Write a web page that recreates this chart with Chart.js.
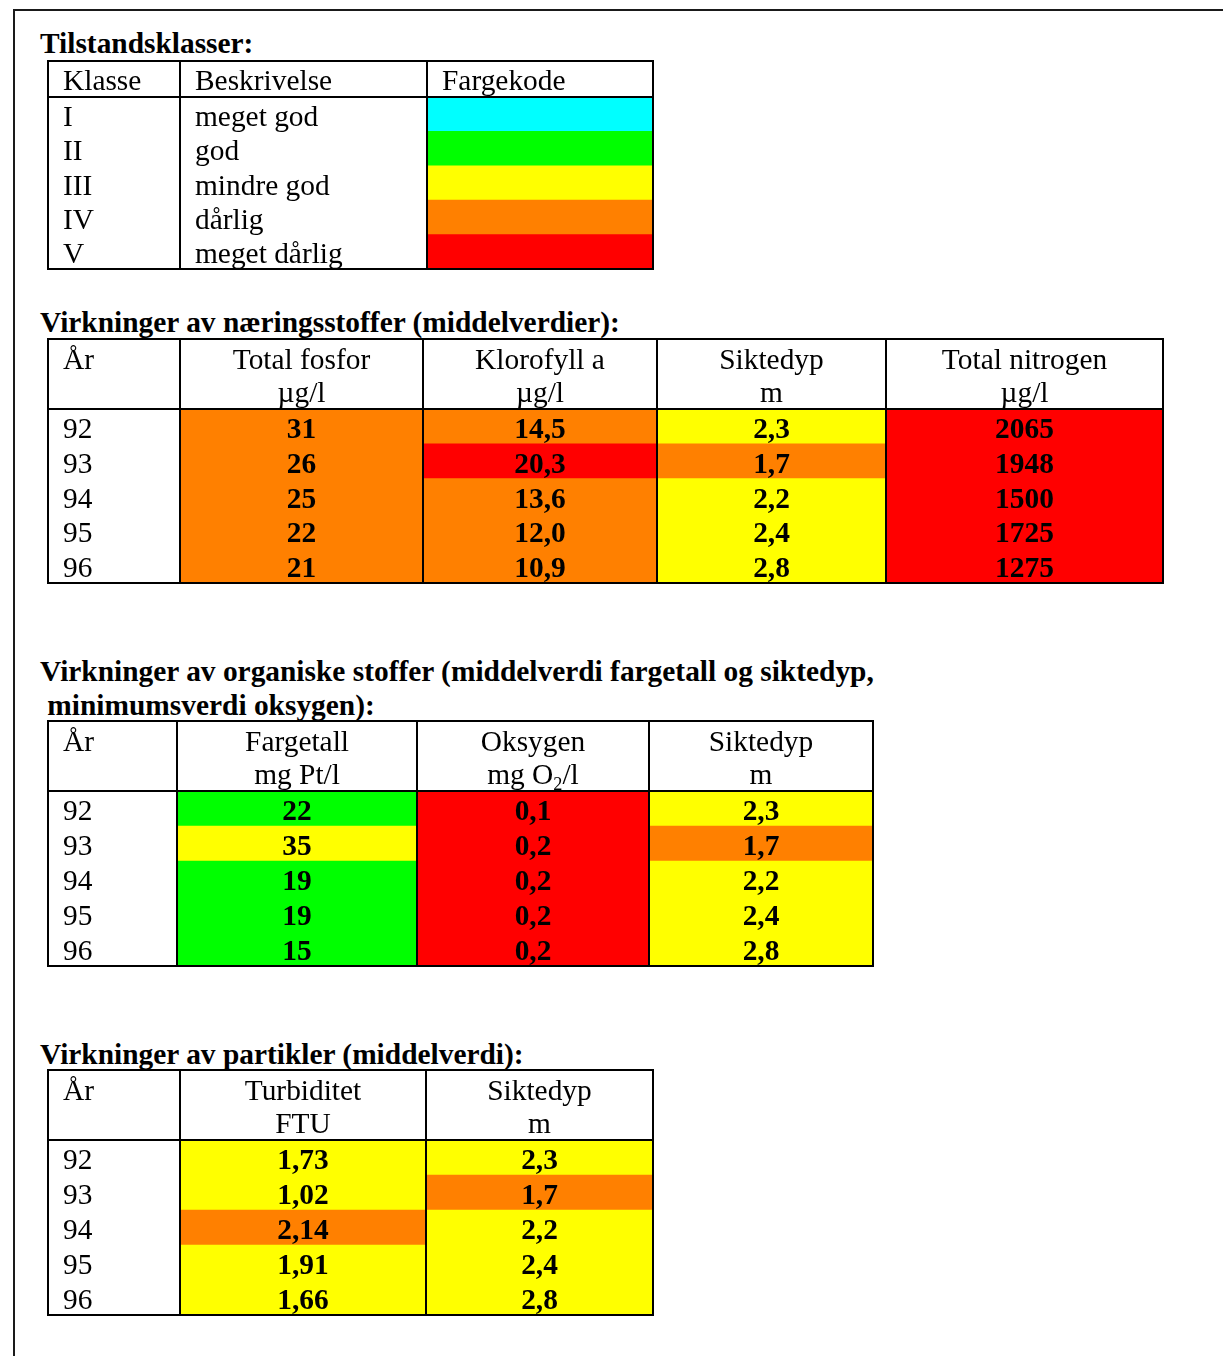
<!DOCTYPE html>
<html lang="no">
<head>
<meta charset="utf-8">
<title>Tilstandsklasser</title>
<script src="https://cdn.jsdelivr.net/npm/chart.js@4.4.1/dist/chart.umd.min.js"></script>
<style>
  html, body { margin: 0; padding: 0; background: #fff; }
  #page { position: relative; width: 1223px; height: 1356px; overflow: hidden; background: #fff; }
  .rule { position: absolute; background: #1a1a1a; }
  .h { position: absolute; font-family: "Liberation Serif", "Times New Roman", serif; font-weight: bold;
       font-size: 29.4px; line-height: 34px; white-space: pre; color: #000; }
  .tbl { position: absolute; }
</style>
</head>
<body>
<div id="page">
  <div class="rule" style="left:13px; top:9px; width:1210px; height:2px;"></div>
  <div class="rule" style="left:13px; top:9px; width:2px; height:1347px;"></div>

  <div class="h" style="left:40px; top:26px;">Tilstandsklasser:</div>
  <div class="tbl" style="left:46px; top:59px;"><canvas id="t1"></canvas></div>

  <div class="h" style="left:40px; top:305px;">Virkninger av næringsstoffer (middelverdier):</div>
  <div class="tbl" style="left:46px; top:337px;"><canvas id="t2"></canvas></div>

  <div class="h" style="left:40px; top:654px;">Virkninger av organiske stoffer (middelverdi fargetall og siktedyp,<br> minimumsverdi oksygen):</div>
  <div class="tbl" style="left:46px; top:719px;"><canvas id="t3"></canvas></div>

  <div class="h" style="left:40px; top:1037px;">Virkninger av partikler (middelverdi):</div>
  <div class="tbl" style="left:46px; top:1068px;"><canvas id="t4"></canvas></div>
</div>

<script>
// ---------------- DATA ----------------
const klasser      = ['I', 'II', 'III', 'IV', 'V'];
const beskrivelser = ['meget god', 'god', 'mindre god', 'dårlig', 'meget dårlig'];
const klasseFarger = ['#00FFFF', '#00FF00', '#FFFF00', '#FF8000', '#FF0000'];
const klasseTab    = [1, 2, 3, 4, 5];

const aar = ['92', '93', '94', '95', '96'];

// Næringsstoffer
const totalFosfor       = [31, 26, 25, 22, 21];
const totalFosforKlasse = [4, 4, 4, 4, 4];
const klorofyll         = [14.5, 20.3, 13.6, 12.0, 10.9];
const klorofyllKlasse   = [4, 5, 4, 4, 4];
const siktedyp          = [2.3, 1.7, 2.2, 2.4, 2.8];
const siktedypKlasse    = [3, 4, 3, 3, 3];
const totalNitrogen     = [2065, 1948, 1500, 1725, 1275];
const totalNitrogenKlasse = [5, 5, 5, 5, 5];

// Organiske stoffer
const fargetall       = [22, 35, 19, 19, 15];
const fargetallKlasse = [2, 3, 2, 2, 2];
const oksygen         = [0.1, 0.2, 0.2, 0.2, 0.2];
const oksygenKlasse   = [5, 5, 5, 5, 5];

// Partikler
const turbiditet       = [1.73, 1.02, 2.14, 1.91, 1.66];
const turbiditetKlasse = [3, 3, 4, 3, 3];

// ---------------- HELPERS ----------------
const FONT = '"Liberation Serif", "Times New Roman", serif';
const fmt = (v, d) => v.toFixed(d).replace('.', ',');
const farge = k => klasseFarger[k - 1];

function drawRich(ctx, str, x, y, align, size, weight) {
  // supports "_2" for a subscript character
  const segs = [];
  for (let i = 0; i < str.length; i++) {
    if (str[i] === '_' && i + 1 < str.length) { segs.push({ t: str[i + 1], sub: true }); i++; }
    else {
      if (segs.length && !segs[segs.length - 1].sub) segs[segs.length - 1].t += str[i];
      else segs.push({ t: str[i], sub: false });
    }
  }
  const fontOf = s => `${weight} ${s.sub ? size * 0.62 : size}px ${FONT}`;
  let total = 0;
  segs.forEach(s => { ctx.font = fontOf(s); s.w = ctx.measureText(s.t).width; total += s.w; });
  let cx = align === 'center' ? x - total / 2 : x;
  ctx.textAlign = 'left';
  ctx.textBaseline = 'alphabetic';
  segs.forEach(s => {
    ctx.font = fontOf(s);
    ctx.fillText(s.t, cx, s.sub ? y + size * 0.2 : y);
    cx += s.w;
  });
}

function buildTable(id, cfg) {
  const nRows = cfg.rowsCount;
  const hu = cfg.headerH / cfg.rowH;          // header height in row units
  const yMax = hu + nRows;
  const W = cfg.colEdges[cfg.colEdges.length - 1];
  const rowCenters = Array.from({ length: nRows }, (_, r) => hu + r + 0.5);

  const datasets = [];
  cfg.columns.forEach((col, ci) => {
    if (!col.fills) return;
    datasets.push({
      data: rowCenters.map(yc => ({ x: [cfg.colEdges[ci], cfg.colEdges[ci + 1]], y: yc })),
      backgroundColor: col.fills,
      borderWidth: 0,
      grouped: false,
      barPercentage: 1,
      categoryPercentage: 1
    });
  });

  const canvas = document.getElementById(id);
  const P = 2;
  canvas.width = W + 2 * P;
  canvas.height = cfg.headerH + cfg.rowH * nRows + 2 * P;
  canvas.style.width = canvas.width + 'px';
  canvas.style.height = canvas.height + 'px';

  const tablePlugin = {
    id: 'tableDraw_' + id,
    afterDatasetsDraw(chart) {
      const { ctx } = chart;
      const xs = chart.scales.x, ys = chart.scales.y;
      const top = ys.getPixelForValue(0);
      ctx.save();
      ctx.fillStyle = '#000';
      cfg.columns.forEach((col, ci) => {
        const x0 = xs.getPixelForValue(cfg.colEdges[ci]);
        const x1 = xs.getPixelForValue(cfg.colEdges[ci + 1]);
        const tx = col.align === 'center' ? (x0 + x1) / 2 : x0 + cfg.textInset;
        col.header.forEach((line, li) => {
          drawRich(ctx, line, tx, top + cfg.headerBaselines[li], col.align, cfg.fontSize, 'normal');
        });
        col.texts.forEach((t, r) => {
          const yc = ys.getPixelForValue(rowCenters[r]);
          drawRich(ctx, t, tx, yc + cfg.rowBaselineOffset, col.align, cfg.fontSize, col.bold ? 'bold' : 'normal');
        });
      });
      ctx.strokeStyle = '#000';
      ctx.lineWidth = 2;
      const L = xs.getPixelForValue(0), R = xs.getPixelForValue(W);
      const B = ys.getPixelForValue(yMax), HB = ys.getPixelForValue(hu);
      ctx.beginPath();
      ctx.rect(L, top, R - L, B - top);
      ctx.moveTo(L, HB); ctx.lineTo(R, HB);
      for (let i = 1; i < cfg.colEdges.length - 1; i++) {
        const xp = xs.getPixelForValue(cfg.colEdges[i]);
        ctx.moveTo(xp, top); ctx.lineTo(xp, B);
      }
      ctx.stroke();
      ctx.restore();
    }
  };

  return new Chart(canvas, {
    type: 'bar',
    data: { datasets },
    options: {
      indexAxis: 'y',
      responsive: false,
      maintainAspectRatio: false,
      animation: false,
      events: [],
      layout: { padding: P },
      plugins: { legend: { display: false }, tooltip: { enabled: false } },
      scales: {
        x: { type: 'linear', min: 0, max: W, offset: false, display: false },
        y: {
          type: 'linear', min: 0, max: yMax, reverse: true, offset: false, display: false,
          afterBuildTicks: s => { s.ticks = rowCenters.map(v => ({ value: v })); }
        }
      }
    },
    plugins: [tablePlugin]
  });
}

// ---------------- TABLES ----------------
const commonT = { rowsCount: 5, fontSize: 29.4, textInset: 15, rowBaselineOffset: 11.5 };

buildTable('t1', Object.assign({}, commonT, {
  headerH: 36, rowH: 34.4,
  colEdges: [0, 132, 379, 605],
  headerBaselines: [29],
  columns: [
    { header: ['Klasse'], align: 'left', texts: klasser },
    { header: ['Beskrivelse'], align: 'left', texts: beskrivelser },
    { header: ['Fargekode'], align: 'left', texts: ['', '', '', '', ''], fills: klasseTab.map(farge) }
  ]
}));

buildTable('t2', Object.assign({}, commonT, {
  headerH: 70, rowH: 34.8,
  colEdges: [0, 132, 375, 609, 838, 1115],
  headerBaselines: [29.5, 63],
  columns: [
    { header: ['År'], align: 'left', texts: aar },
    { header: ['Total fosfor', 'µg/l'], align: 'center', bold: true, texts: totalFosfor.map(v => fmt(v, 0)), fills: totalFosforKlasse.map(farge) },
    { header: ['Klorofyll a', 'µg/l'], align: 'center', bold: true, texts: klorofyll.map(v => fmt(v, 1)), fills: klorofyllKlasse.map(farge) },
    { header: ['Siktedyp', 'm'], align: 'center', bold: true, texts: siktedyp.map(v => fmt(v, 1)), fills: siktedypKlasse.map(farge) },
    { header: ['Total nitrogen', 'µg/l'], align: 'center', bold: true, texts: totalNitrogen.map(v => fmt(v, 0)), fills: totalNitrogenKlasse.map(farge) }
  ]
}));

buildTable('t3', Object.assign({}, commonT, {
  headerH: 70, rowH: 35,
  colEdges: [0, 129, 369, 601, 825],
  headerBaselines: [29.5, 63],
  columns: [
    { header: ['År'], align: 'left', texts: aar },
    { header: ['Fargetall', 'mg Pt/l'], align: 'center', bold: true, texts: fargetall.map(v => fmt(v, 0)), fills: fargetallKlasse.map(farge) },
    { header: ['Oksygen', 'mg O_2/l'], align: 'center', bold: true, texts: oksygen.map(v => fmt(v, 1)), fills: oksygenKlasse.map(farge) },
    { header: ['Siktedyp', 'm'], align: 'center', bold: true, texts: siktedyp.map(v => fmt(v, 1)), fills: siktedypKlasse.map(farge) }
  ]
}));

buildTable('t4', Object.assign({}, commonT, {
  headerH: 70, rowH: 35,
  colEdges: [0, 132, 378, 605],
  headerBaselines: [29.5, 63],
  columns: [
    { header: ['År'], align: 'left', texts: aar },
    { header: ['Turbiditet', 'FTU'], align: 'center', bold: true, texts: turbiditet.map(v => fmt(v, 2)), fills: turbiditetKlasse.map(farge) },
    { header: ['Siktedyp', 'm'], align: 'center', bold: true, texts: siktedyp.map(v => fmt(v, 1)), fills: siktedypKlasse.map(farge) }
  ]
}));
</script>
</body>
</html>
